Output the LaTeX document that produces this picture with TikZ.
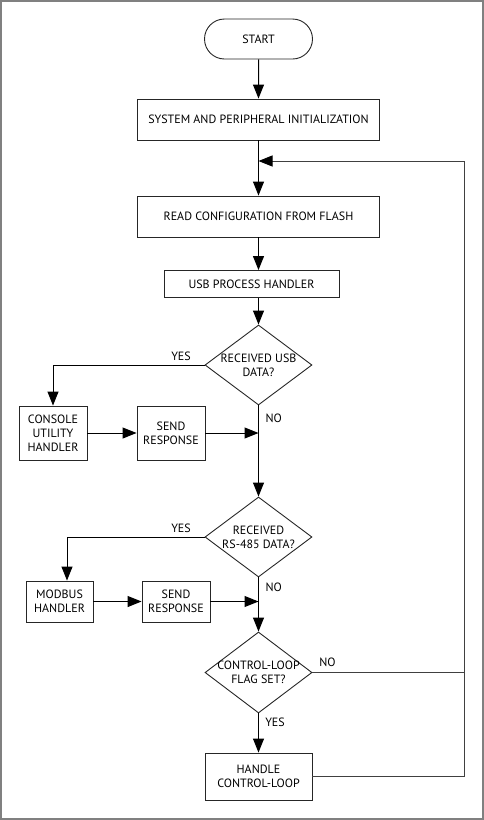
\documentclass[tikz,border=0pt]{standalone}
\usepackage{fontspec}
\setmainfont{PT Sans}
\usetikzlibrary{shapes.geometric,shapes.misc,arrows.meta,calc}
\begin{document}
\begin{tikzpicture}[x=1pt,y=-1pt,
  every node/.style={font=\fontsize{12}{14}\selectfont, text=black},
  box/.style={draw=black!85, line width=0.9pt, inner sep=0pt, align=center},
  term/.style={box, rounded rectangle},
  decision/.style={draw=black!85, line width=0.9pt, diamond, inner sep=0pt, minimum width=107pt, minimum height=80pt},
  dtext/.style={align=center, inner sep=0pt},
  lbl/.style={inner sep=0pt},
  conn/.style={line width=1pt, draw=black},
  arr/.style={conn, -{Triangle[length=14pt,width=11pt]}},
  loopline/.style={line width=0.9pt, draw=black!75}
]
\useasboundingbox (0,0) rectangle (484,820);
\draw[draw=black!50, line width=2pt] (1,1) rectangle (483,819);

\node[term, minimum width=108pt, minimum height=40pt] (start) at (258.5,39) {START};
\node[box, minimum width=242pt, minimum height=41pt] (init) at (258.5,119.5) {SYSTEM AND PERIPHERAL INITIALIZATION};
\node[box, minimum width=242pt, minimum height=41pt] (read) at (258.5,216.5) {READ CONFIGURATION FROM FLASH};
\node[box, minimum width=175pt, minimum height=27pt] (usb) at (251.5,284) {USB PROCESS HANDLER};

\node[decision] (d1) at (258.5,365) {};
\node[dtext] (d1t) at (d1) {RECEIVED USB\\DATA?};
\node[box, minimum width=68pt, minimum height=54pt] (console) at (53,433) {CONSOLE\\UTILITY\\HANDLER};
\node[box, minimum width=68pt, minimum height=54pt] (send1) at (171,433) {SEND\\RESPONSE};

\node[decision] (d2) at (258.5,537) {};
\node[dtext] (d2t) at (d2) {RECEIVED\\RS-485 DATA?};
\node[box, minimum width=67pt, minimum height=41pt] (modbus) at (59.5,601.5) {MODBUS\\HANDLER};
\node[box, minimum width=68pt, minimum height=41pt] (send2) at (176,601.5) {SEND\\RESPONSE};

\node[decision, minimum height=81pt] (d3) at (258.5,672.5) {};
\node[dtext] (d3t) at (d3) {CONTROL-LOOP\\FLAG SET?};
\node[box, minimum width=107pt, minimum height=47pt] (handle) at (258.5,776.5) {HANDLE\\CONTROL-LOOP};

% labels
\node[lbl] (y1) at (181,356) {YES};
\node[lbl] (n1) at (273.7,418) {NO};
\node[lbl] (y2) at (181,528) {YES};
\node[lbl] (n2) at (273.7,587) {NO};
\node[lbl] (n3) at (327.5,662) {NO};
\node[lbl] (y3) at (275,722) {YES};

% coordinates
\coordinate (c1) at (53,365);
\coordinate (c2) at (67,537);
\coordinate (r1) at (464,672.5);
\coordinate (r2) at (464,776.5);
\coordinate (r3) at (464,161);
\coordinate (m0) at (258.5,161);

% main column
\draw[arr] (start) -- (init);
\draw[conn] (init.south) -- (m0);
\draw[arr] (m0) -- (read.north);
\draw[arr] (read.south) -- (read.south |- usb.north);
\draw[arr] (d1.north |- usb.south) -- (d1.north);
\draw[arr] (d1.south) -- (d2.north);
\draw[arr] (d2.south) -- (d3.north);
\draw[arr] (d3.south) -- (handle.north);

% USB yes branch
\draw[arr] (d1.west) -- (c1) -- (console.north);
\draw[arr] (console.east) -- (send1.west);
\draw[arr] (send1.east) -- (send1.east -| d1.south);

% RS-485 yes branch
\draw[arr] (d2.west) -- (c2) -- (c2 |- modbus.north);
\draw[arr] (modbus.east) -- (send2.west);
\draw[arr] (send2.east) -- (send2.east -| d2.south);

% control loop return
\draw[loopline] (d3.east) -- (r1);
\draw[loopline] (handle.east) -- (r2) -- (r3);
\draw[loopline, -{Triangle[length=14pt,width=11pt,color=black,fill=black]}] (r3) -- (m0);
\end{tikzpicture}
\end{document}
